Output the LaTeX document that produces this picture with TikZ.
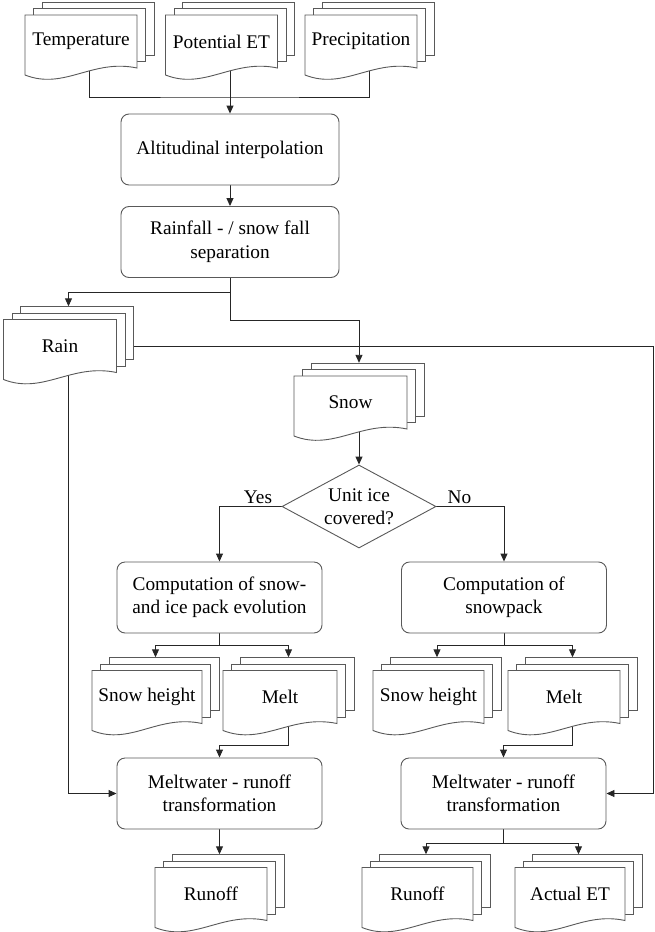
\documentclass[tikz,border=0pt]{standalone}
\usepackage{fontspec}
\setmainfont{Liberation Serif}
\newfontfamily\labelfont{Liberation Serif}
\usepackage{tikz}
\usetikzlibrary{positioning,calc,shapes.geometric,arrows.meta,backgrounds}

\tikzset{
    txt/.style={font=\labelfont\fontsize{19.3}{23.5}\selectfont},
    docline/.style={draw=black!65, line width=0.9pt, fill=white},
    doctext/.style={txt, inner sep=0pt, minimum height=53pt},
    box/.style={txt, draw=black!65, line width=0.9pt, fill=white, rounded corners=8pt, align=center, minimum width=205pt, minimum height=71pt, inner sep=2pt},
    dec/.style={txt, diamond, draw=black!65, line width=0.9pt, fill=white, align=center, aspect=1.86, minimum width=154pt, minimum height=83pt, inner sep=0pt},
    conn/.style={draw=black!85, line width=0.9pt},
    arr/.style={conn, -{Triangle[length=8pt,width=7pt]}},
    lbl/.style={txt, above, text depth=0pt, inner sep=3pt},
}

% stack of three documents: name, x, y, width, text
\newcommand\multidoc[5]{%
    \foreach \k in {2,1}
        \draw[docline] ($(#2,#3)+(\k*8.5-#4/2,-26.5-\k*6.5)$) rectangle ++(#4,53);
    \draw[docline] ($(#2,#3)+(-#4/2,-26.5)$) -- ++(#4,0) -- ++(0,53)
        .. controls ($(#2,#3)+(0.1*#4,17)$) and ($(#2,#3)+(-0.15*#4,49)$) .. ($(#2,#3)+(-#4/2,33.5)$) -- cycle;
    \node[doctext, minimum width=#4pt] (#1) at (#2,#3) {#5};
}

\begin{document}
\begin{tikzpicture}[x=1pt, y=-1pt]
    \useasboundingbox (0,0) rectangle (654,932);

    \multidoc{temp}{81}{41.5}{112}{Temperature}
    \multidoc{pet}{221.5}{41.5}{112}{Potential ET}
    \multidoc{prec}{361}{41.5}{112}{Precipitation}

    \node[box, minimum width=218pt] (alt) at (230,149.5) {Altitudinal interpolation};
    \node[box, minimum width=218pt] (sep) at (230,242) {Rainfall - / snow fall\\separation};

    \multidoc{rain}{60}{346}{113}{Rain}
    \multidoc{snow}{350.5}{402.5}{113}{Snow}

    \node[dec] (ice) at (359,506.5) {Unit ice\\covered?};

    \node[box] (comp1) at (219.5,597.5) {Computation of snow-\\and ice pack evolution};
    \node[box] (comp2) at (504,597.5) {Computation of\\snowpack};

    \multidoc{sh1}{147}{697}{110}{Snow height}
    \multidoc{melt1}{280}{697}{114}{Melt}
    \multidoc{sh2}{428.5}{697}{111}{Snow height}
    \multidoc{melt2}{564}{697}{112}{Melt}

    \node[box] (mw1) at (219.5,793.5) {Meltwater - runoff\\transformation};
    \node[box] (mw2) at (503.5,793.5) {Meltwater - runoff\\transformation};

    \multidoc{run1}{211}{894}{112}{Runoff}
    \multidoc{run2}{417.5}{894}{111}{Runoff}
    \multidoc{aet}{570}{894}{110}{Actual ET}

    \coordinate (inp) at (230,97);
    \coordinate (rsplit) at (230,292);
    \coordinate (ssplit) at (230,320);
    \coordinate (redge) at (653,793.5);
    \coordinate (c1split) at (219.5,645);
    \coordinate (c2split) at (504,645);
    \coordinate (osplit) at (503.5,843);

    % connectors behind the documents
    \begin{scope}[on background layer]
        \draw[conn] ([xshift=8.5pt]temp.south) |- (inp) -| ([xshift=8.5pt]prec.south);
        \draw[arr] ([xshift=8.5pt]pet.south) -- (alt.north);
        \draw[arr] (alt) -- (sep);
        \draw[conn] (sep.south) -- (ssplit);
        \draw[arr] (rsplit) -| ([xshift=8.5pt,yshift=13pt]rain.north);
        \draw[arr] (ssplit) -| ([xshift=8.5pt,yshift=13pt]snow.north);
        \draw[conn] ([xshift=17pt]rain.east) -| (redge);
        \draw[arr] (redge) -- (mw2.east);
        \draw[arr] ([xshift=8.5pt]rain.south) |- (mw1.west);
        \draw[arr] ([xshift=8.5pt]snow.south) -- (ice.north);
        \draw[arr] (ice.west) -| node[lbl, pos=0.19] (yes) {Yes} (comp1.north);
        \draw[arr] (ice.east) -| node[lbl, pos=0.17] (no) {No} (comp2.north);
        \draw[conn] (comp1) -- (c1split);
        \draw[arr] (c1split) -| ([xshift=8.5pt,yshift=13pt]sh1.north);
        \draw[arr] (c1split) -| ([xshift=8.5pt,yshift=13pt]melt1.north);
        \draw[conn] (comp2) -- (c2split);
        \draw[arr] (c2split) -| ([xshift=8.5pt,yshift=13pt]sh2.north);
        \draw[arr] (c2split) -| ([xshift=8.5pt,yshift=13pt]melt2.north);
        \draw[arr] ([xshift=8.5pt]melt1.south) -- ++(0,21.5) -| (mw1.north);
        \draw[arr] ([xshift=8.5pt]melt2.south) -- ++(0,21.5) -| (mw2.north);
        \draw[arr] (mw1) -- ([xshift=8.5pt,yshift=13pt]run1.north);
        \draw[conn] (mw2) -- (osplit);
        \draw[arr] (osplit) -| ([xshift=8.5pt,yshift=13pt]run2.north);
        \draw[arr] (osplit) -| ([xshift=8.5pt,yshift=13pt]aet.north);
    \end{scope}
\end{tikzpicture}
\end{document}
